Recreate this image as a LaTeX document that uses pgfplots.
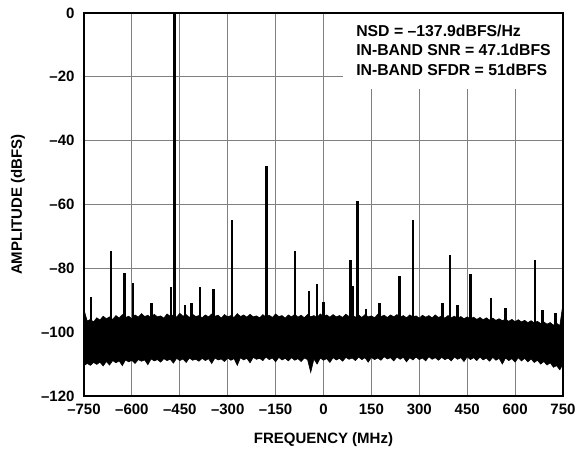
\documentclass[border=0pt]{standalone}
\usepackage{fontspec}
\setmainfont{Liberation Sans}
\usepackage{pgfplots}
\pgfplotsset{compat=1.18}
\begin{document}
\begin{tikzpicture}[x=1pt,y=1pt]
\useasboundingbox (-84,-57) rectangle (495,396);
\begin{axis}[
  at={(0,0)}, anchor=south west,
  scale only axis, width=479pt, height=383pt,
  xmin=-750, xmax=750, ymin=-120, ymax=0,
  xtick={-750,-600,...,750},
  xticklabels={–750,–600,–450,–300,–150,0,150,300,450,600,750},
  ytick={-120,-100,...,0},
  yticklabels={–120,–100,–80,–60,–40,–20,0},
  grid=major,
  major grid style={draw=black!50, line width=0.9pt},
  major tick length=0pt,
  axis line style={line width=1.5pt},
  tick label style={font=\fontsize{15}{18}\selectfont\bfseries},
  yticklabel style={xshift=-6pt},
  xticklabel style={yshift=-4pt},
  xlabel={FREQUENCY (MHz)},
  ylabel={AMPLITUDE (dBFS)},
  label style={font=\fontsize{15}{18}\selectfont\bfseries},
  xlabel style={at={(axis description cs:0.5,-0.1149)}, anchor=center},
  ylabel style={at={(axis description cs:-0.1378,0.5)}, anchor=center},
  unbounded coords=jump,
]
% noise floor band: upper envelope left to right, lower envelope right to left
\addplot[black, fill=black, line width=0.6pt] coordinates {
(-750,-93) (-740,-96.5) (-730,-96) (-720,-96.8) (-710,-95.5) (-700,-96.2) (-690,-95) (-680,-95.8) (-670,-95.2) (-660,-96)
(-650,-94.8) (-640,-95.6) (-630,-94.5) (-620,-95.4) (-610,-95) (-600,-95.8) (-590,-94.6) (-580,-95.3) (-570,-94.2) (-560,-95.1)
(-550,-94.7) (-540,-95.5) (-530,-94.4) (-520,-95.2) (-510,-94.9) (-500,-95.6) (-490,-94.3) (-480,-95) (-470,-94.6) (-460,-95.3)
(-450,-94.1) (-440,-95) (-430,-94.5) (-420,-95.4) (-410,-94.4) (-400,-95.1) (-390,-94.8) (-380,-95.5) (-370,-94.6) (-360,-95.2)
(-350,-94.3) (-340,-95) (-330,-94.7) (-320,-95.6) (-310,-94.5) (-300,-95.2) (-290,-94.8) (-280,-95.4) (-270,-94.2) (-260,-95.1)
(-250,-94.6) (-240,-95.3) (-230,-94.4) (-220,-95.2) (-210,-94.9) (-200,-95.5) (-190,-94.5) (-180,-95.3) (-170,-94.7) (-160,-95.4)
(-150,-94.3) (-140,-95.1) (-130,-94.8) (-120,-95.6) (-110,-94.6) (-100,-95.2) (-90,-94.4) (-80,-95.3) (-70,-94.7) (-60,-95.5)
(-50,-94.5) (-40,-95.2) (-30,-94.8) (-20,-95.4) (-10,-94.3) (0,-95.1) (10,-94.6) (20,-95.3) (30,-94.5) (40,-95.2)
(50,-94.8) (60,-95.4) (70,-94.4) (80,-95.1) (90,-94.7) (100,-95.3) (110,-94.6) (120,-95.4) (130,-94.5) (140,-95.2)
(150,-94.9) (160,-95.5) (170,-94.4) (180,-95.1) (190,-94.7) (200,-95.4) (210,-94.6) (220,-95.2) (230,-94.5) (240,-95.3)
(250,-94.8) (260,-95.5) (270,-94.6) (280,-95.2) (290,-94.9) (300,-95.6) (310,-94.7) (320,-95.3) (330,-94.8) (340,-95.5)
(350,-94.6) (360,-95.4) (370,-94.9) (380,-95.6) (390,-94.8) (400,-95.5) (410,-95) (420,-95.7) (430,-95.1) (440,-95.8)
(450,-95.2) (460,-95.9) (470,-95.3) (480,-96) (490,-95.4) (500,-96.1) (510,-95.5) (520,-96.2) (530,-95.6) (540,-96.3)
(550,-95.8) (560,-96.4) (570,-95.9) (580,-96.6) (590,-96) (600,-96.7) (610,-96.1) (620,-96.8) (630,-96.3) (640,-97)
(650,-96.4) (660,-97.1) (670,-96.6) (680,-97.3) (690,-96.8) (700,-97.5) (710,-97) (720,-97.8) (730,-97.2) (740,-98) (750,-91)
(750,-110) (740,-111.8) (730,-110.5) (720,-111) (710,-109.6) (700,-110.3) (690,-109.2) (680,-110) (670,-108.8) (660,-109.5)
(650,-108.4) (640,-109.3) (630,-108.2) (620,-109) (610,-108) (600,-109.4) (590,-108.3) (580,-108.9) (570,-108.1) (560,-110)
(550,-108.2) (540,-108.8) (530,-107.9) (520,-109.1) (510,-108.1) (500,-108.7) (490,-107.8) (480,-108.9) (470,-108) (460,-108.6)
(450,-107.7) (440,-109.2) (430,-108) (420,-108.5) (410,-107.8) (400,-109) (390,-108.1) (380,-108.6) (370,-107.9) (360,-108.8)
(350,-108) (340,-108.5) (330,-107.7) (320,-109) (310,-108.1) (300,-108.6) (290,-107.8) (280,-108.7) (270,-108) (260,-109.3)
(250,-107.9) (240,-108.5) (230,-107.8) (220,-109) (210,-108) (200,-108.4) (190,-107.7) (180,-108.8) (170,-108.1) (160,-108.6)
(150,-107.9) (140,-109.4) (130,-108) (120,-108.6) (110,-107.8) (100,-108.9) (90,-108.1) (80,-108.5) (70,-107.9) (60,-109.1)
(50,-108.2) (40,-108.7) (30,-108) (20,-109.5) (10,-108.3) (0,-108.8) (-10,-108.1) (-20,-110) (-30,-108.4) (-40,-112.6)
(-50,-108.6) (-60,-108.1) (-70,-109.2) (-80,-108.3) (-90,-108.8) (-100,-108) (-110,-109) (-120,-108.2) (-130,-108.7) (-140,-107.9)
(-150,-109.3) (-160,-108.1) (-170,-108.6) (-180,-107.8) (-190,-108.9) (-200,-108.2) (-210,-108.5) (-220,-107.9) (-230,-109.6) (-240,-108.2)
(-250,-108.7) (-260,-108) (-270,-110.4) (-280,-108.3) (-290,-108.8) (-300,-108.1) (-310,-109.2) (-320,-108.4) (-330,-108.7) (-340,-108.1)
(-350,-109.8) (-360,-108.3) (-370,-108.9) (-380,-108.2) (-390,-109.1) (-400,-108.5) (-410,-108.8) (-420,-108.1) (-430,-109.5) (-440,-108.4)
(-450,-108.9) (-460,-108.2) (-470,-109.7) (-480,-108.5) (-490,-108.9) (-500,-108.3) (-510,-109.4) (-520,-108.6) (-530,-109) (-540,-108.4)
(-550,-110.2) (-560,-108.7) (-570,-109.1) (-580,-108.6) (-590,-109.8) (-600,-108.8) (-610,-109.3) (-620,-108.7) (-630,-110.5) (-640,-109)
(-650,-109.6) (-660,-108.9) (-670,-110.3) (-680,-109.2) (-690,-110.6) (-700,-109.4) (-710,-110.1) (-720,-109.5) (-730,-110.4) (-740,-109.8)
(-750,-110.5) (-750,-93)
};
% spurs
\addplot[black, line width=2.5pt] coordinates {
(-728,-100) (-728,-89) (-728,nan)
(-666,-100) (-666,-74.6) (-666,nan)
(-623,-100) (-623,-81.6) (-623,nan)
(-596,-100) (-596,-84.5) (-596,nan)
(-538,-100) (-538,-91) (-538,nan)
(-478,-100) (-478,-85.8) (-478,nan)
(-433,-100) (-433,-91.5) (-433,nan)
(-414,-100) (-414,-91) (-414,nan)
(-387,-100) (-387,-86) (-387,nan)
(-345,-100) (-345,-86.6) (-345,nan)
(-287,-100) (-287,-64.8) (-287,nan)
(-179,-100) (-179,-48) (-179,nan)
(-89,-100) (-89,-74.6) (-89,nan)
(-46,-100) (-46,-87) (-46,nan)
(-20,-100) (-20,-85) (-20,nan)
(0,-100) (0,-90.5) (0,nan)
(85,-100) (85,-77.4) (85,nan)
(93,-100) (93,-85.6) (93,nan)
(106,-100) (106,-58.8) (106,nan)
(133,-100) (133,-92.8) (133,nan)
(175,-100) (175,-91) (175,nan)
(238,-100) (238,-82.4) (238,nan)
(281,-100) (281,-64.9) (281,nan)
(372,-100) (372,-91) (372,nan)
(396,-100) (396,-75.9) (396,nan)
(420,-100) (420,-91.5) (420,nan)
(461,-100) (461,-81.9) (461,nan)
(524,-100) (524,-89.4) (524,nan)
(570,-100) (570,-92.3) (570,nan)
(662,-100) (662,-77.4) (662,nan)
(686,-100) (686,-93) (686,nan)
(727,-100) (727,-94) (727,nan)
};
% carrier
\addplot[black, line width=3pt] coordinates {(-467,-100) (-467,0)};
\fill[white] (axis cs:61,-23.8) rectangle (axis cs:747,-0.3);
\node[anchor=north west, inner sep=0pt, align=left,
      font=\fontsize{15.8}{19.3}\selectfont\bfseries]
  at (axis cs:102,-3.7)
  {NSD = –137.9dBFS/Hz\\IN-BAND SNR = 47.1dBFS\\IN-BAND SFDR = 51dBFS};
\end{axis}
\end{tikzpicture}
\end{document}
